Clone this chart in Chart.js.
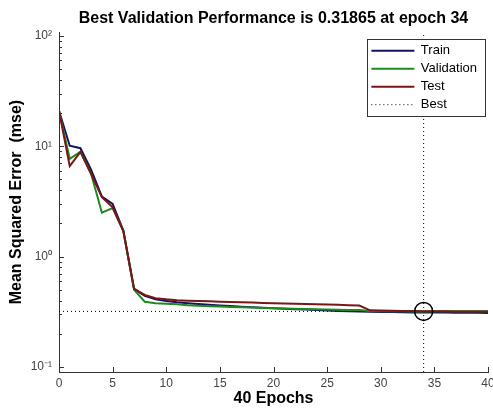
<!DOCTYPE html>
<html>
<head>
<meta charset="utf-8">
<script src="https://cdn.jsdelivr.net/npm/chart.js@4"></script>
<style>
  html, body { margin: 0; padding: 0; background: #fff; }
  canvas { display: block; }
</style>
</head>
<body>
<canvas id="perfChart" width="493" height="414"></canvas>
<script>
let epochs = [0, 1, 2, 3, 4, 5, 6, 7, 8, 9, 10, 11, 12, 13, 14, 15, 16, 17, 18, 19, 20,
              21, 22, 23, 24, 25, 26, 27, 28, 29, 30, 31, 32, 33, 34, 35, 36, 37, 38, 39, 40];
let trainMse = [21, 10.1, 9.6, 6.1, 3.5, 3.0, 1.72, 0.51, 0.44, 0.41, 0.395, 0.385, 0.378, 0.372, 0.366,
                0.361, 0.356, 0.352, 0.348, 0.344, 0.34, 0.337, 0.334, 0.331, 0.328, 0.325, 0.322, 0.32,
                0.318, 0.316, 0.315, 0.314, 0.313, 0.312, 0.312, 0.311, 0.311, 0.31, 0.31, 0.31, 0.309];
let validationMse = [21, 7.7, 8.9, 5.6, 2.5, 2.75, 1.7, 0.5, 0.39, 0.377, 0.374, 0.37, 0.362, 0.358, 0.355,
                     0.353, 0.35, 0.347, 0.345, 0.343, 0.341, 0.339, 0.337, 0.335, 0.333, 0.331, 0.33, 0.329,
                     0.328, 0.322, 0.32, 0.3195, 0.319, 0.3188, 0.31865, 0.3189, 0.3192, 0.3194, 0.3196, 0.3198, 0.32];
let testMse = [21, 6.6, 8.9, 5.6, 3.45, 2.8, 1.7, 0.51, 0.45, 0.42, 0.41, 0.403, 0.399, 0.396, 0.393,
               0.39, 0.388, 0.385, 0.383, 0.38, 0.378, 0.376, 0.374, 0.372, 0.37, 0.368, 0.366, 0.363,
               0.36, 0.326, 0.324, 0.323, 0.322, 0.321, 0.32, 0.319, 0.319, 0.318, 0.318, 0.318, 0.318];
let bestEpoch = 34;
let bestPerf = 0.31865;
let xTicks = [0, 5, 10, 15, 20, 25, 30, 35, 40];
let yTicks = [0.1, 1, 10, 100];
let yTickLabels = ['10\u207B\u00B9', '10\u2070', '10\u00B9', '10\u00B2'];
let yMin = 0.09, yMax = 108;

let toPoints = (arr) => epochs.map((e, i) => ({x: e, y: arr[i]}));
let axisColor = '#333';
let tickFont = {family: "'Liberation Sans', Arial, sans-serif", size: 12};
let labelFont = {family: "'Liberation Sans', Arial, sans-serif", size: 16, weight: 'bold'};

// MATLAB style ticks, pointing into the plot
let inwardTicks = {
    id: 'inwardTicks',
    afterDatasetsDraw(chart) {
        let {ctx, chartArea: a, scales: {x, y}} = chart;
        ctx.save();
        ctx.strokeStyle = axisColor;
        ctx.lineWidth = 1;
        ctx.beginPath();
        xTicks.forEach(v => {
            let px = Math.round(x.getPixelForValue(v)) + 0.5;
            ctx.moveTo(px, a.bottom);
            ctx.lineTo(px, a.bottom - 5);
        });
        for (let d = -2; d <= 2; d++) {
            for (let m = 1; m <= 9; m++) {
                let v = m * Math.pow(10, d);
                if (v < y.min || v > y.max) continue;
                let py = Math.round(y.getPixelForValue(v)) + 0.5;
                ctx.moveTo(a.left, py);
                ctx.lineTo(a.left + (m === 1 ? 5 : 3), py);
            }
        }
        ctx.stroke();
        ctx.restore();
    }
};

// boxed legend in the top right corner, drawn over the lines
let legendBox = {
    id: 'legendBox',
    afterLayout(chart) {
        let lg = chart.legend, a = chart.chartArea;
        if (!lg || !lg.columnSizes || !lg.columnSizes.length) return;
        let pad = lg.options.labels.padding;
        let w = lg.columnSizes[0].width + 12;
        let h = lg.columnSizes[0].height + pad;
        let left = a.right - 3 - w, top = a.top + 7;
        lg._box = {left, top, w, h};
        lg.left = left + 4 - pad;
        lg.right = left + w;
        lg.top = top;
        lg.bottom = top + h + 40;
    },
    afterDatasetsDraw(chart) {
        let lg = chart.legend, b = lg && lg._box;
        if (!b) return;
        let ctx = chart.ctx;
        ctx.save();
        ctx.fillStyle = '#fff';
        ctx.fillRect(b.left, b.top, b.w, b.h);
        ctx.strokeStyle = axisColor;
        ctx.lineWidth = 1;
        ctx.strokeRect(Math.round(b.left) + 0.5, Math.round(b.top) + 0.5, Math.round(b.w), Math.round(b.h));
        ctx.restore();
        lg.draw();
    }
};

let ctx = document.getElementById('perfChart').getContext('2d');

let perfChart = new Chart(ctx, {
    type: 'line',
    data: {
        datasets: [{
            label: 'Train',
            data: toPoints(trainMse),
            borderColor: '#15155e',
            borderWidth: 2,
            pointRadius: 0,
            order: 3
        }, {
            label: 'Validation',
            data: toPoints(validationMse),
            borderColor: '#1f8a1f',
            borderWidth: 2,
            pointRadius: 0,
            order: 2
        }, {
            label: 'Test',
            data: toPoints(testMse),
            borderColor: '#7a1616',
            borderWidth: 2,
            pointRadius: 0,
            order: 1
        }, {
            label: 'Best',
            data: [{x: 0, y: bestPerf}, {x: 40, y: bestPerf}],
            borderColor: '#000',
            borderWidth: 1,
            borderDash: [1, 3],
            pointRadius: 0,
            order: 4
        }, {
            label: '',
            data: [{x: bestEpoch, y: yMin}, {x: bestEpoch, y: yMax}],
            borderColor: '#000',
            borderWidth: 1,
            borderDash: [1, 3],
            pointRadius: 0,
            order: 4
        }, {
            label: '',
            data: [{x: bestEpoch, y: bestPerf}],
            showLine: false,
            pointRadius: 9,
            pointBorderWidth: 1.5,
            pointBorderColor: '#000',
            pointBackgroundColor: 'rgba(0,0,0,0)',
            order: 0
        }]
    },
    options: {
        responsive: false,
        animation: false,
        layout: {
            autoPadding: false,
            padding: {left: 0, right: 5, top: 0, bottom: 0}
        },
        scales: {
            x: {
                type: 'linear',
                min: 0,
                max: 40,
                afterBuildTicks: (s) => { s.ticks = xTicks.map(v => ({value: v})); },
                afterFit: (s) => { s.height = 42; s.paddingLeft = 0; s.paddingRight = 0; },
                grid: {display: false, drawTicks: false},
                border: {display: true, color: axisColor, width: 1},
                ticks: {color: '#444', font: tickFont, padding: 4, maxRotation: 0},
                title: {display: true, text: '40 Epochs', color: '#000', font: labelFont,
                        padding: {top: 0, bottom: 6}}
            },
            y: {
                type: 'logarithmic',
                min: yMin,
                max: yMax,
                afterBuildTicks: (s) => { s.ticks = yTicks.map(v => ({value: v})); },
                afterFit: (s) => { s.width = 59; s.paddingTop = 0; s.paddingBottom = 0; },
                grid: {display: false, drawTicks: false},
                border: {display: true, color: axisColor, width: 1},
                ticks: {
                    color: '#444',
                    font: tickFont,
                    padding: 7,
                    callback: (value) => {
                        let i = yTicks.indexOf(value);
                        return i >= 0 ? yTickLabels[i] : '';
                    }
                },
                title: {display: true, text: 'Mean Squared Error  (mse)', color: '#000', font: labelFont,
                        padding: {top: 7, bottom: 0}}
            }
        },
        plugins: {
            title: {
                display: true,
                text: 'Best Validation Performance is 0.31865 at epoch 34',
                color: '#000',
                font: labelFont,
                fullSize: false,
                padding: {top: 9, bottom: 4}
            },
            legend: {
                position: 'chartArea',
                align: 'start',
                labels: {
                    usePointStyle: true,
                    pointStyle: 'line',
                    pointStyleWidth: 43,
                    color: '#000',
                    font: {family: "'Liberation Sans', Arial, sans-serif", size: 13},
                    padding: 5,
                    generateLabels: (chart) => {
                        let items = Chart.defaults.plugins.legend.labels.generateLabels(chart);
                        return items.map(item => {
                            let ds = chart.data.datasets[item.datasetIndex];
                            item.strokeStyle = ds.borderColor;
                            item.lineWidth = ds.borderWidth;
                            item.lineDash = ds.borderDash || [];
                            return item;
                        });
                    },
                    filter: (item) => item.text !== '',
                    sort: (a, b) => a.datasetIndex - b.datasetIndex
                }
            },
            tooltip: {enabled: false}
        }
    },
    plugins: [inwardTicks, legendBox]
});
</script>
</body>
</html>
